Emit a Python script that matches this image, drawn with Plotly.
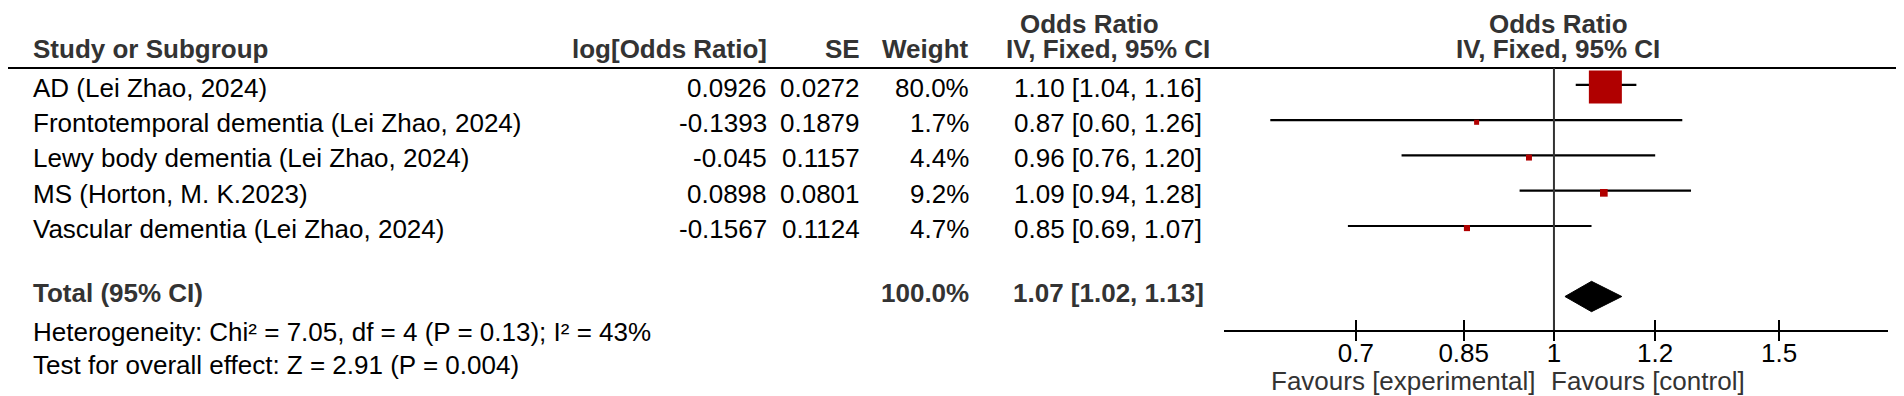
import math
import plotly.graph_objects as go

# ---------------- data ----------------
studies = [
    "AD (Lei Zhao, 2024)",
    "Frontotemporal dementia (Lei Zhao, 2024)",
    "Lewy body dementia (Lei Zhao, 2024)",
    "MS (Horton, M. K.2023)",
    "Vascular dementia (Lei Zhao, 2024)",
]
log_or = [0.0926, -0.1393, -0.045, 0.0898, -0.1567]
se = ["0.0272", "0.1879", "0.1157", "0.0801", "0.1124"]
weight = [80.0, 1.7, 4.4, 9.2, 4.7]
or_est = [1.10, 0.87, 0.96, 1.09, 0.85]
ci_lo = [1.04, 0.60, 0.76, 0.94, 0.69]
ci_hi = [1.16, 1.26, 1.20, 1.28, 1.07]
total_est, total_lo, total_hi = 1.07, 1.02, 1.13
total_weight = 100.0
heterogeneity = "Heterogeneity: Chi² = 7.05, df = 4 (P = 0.13); I² = 43%"
overall_effect = "Test for overall effect: Z = 2.91 (P = 0.004)"
tick_vals = [0.7, 0.85, 1, 1.2, 1.5]
tick_text = ["0.7", "0.85", "1", "1.2", "1.5"]
x_min, x_max = 0.552, 1.825

# ---------------- layout helpers ----------------
W, H = 1904, 396
FONT = "Arial, Liberation Sans, sans-serif"
FS = 26
DARK = "#333333"
BLACK = "#000000"
RED = "#B00000"
TEXT_SHIFT = -7  # annotation boxes sit a little low; lift them

def px(xp):
    return xp / W

def py(yp):
    return 1 - yp / H

annotations = []

def txt(text, xp, yp, anchor="left", bold=False, color=BLACK, size=FS,
        shift=TEXT_SHIFT, yanchor="middle"):
    annotations.append(dict(
        text=f"<b>{text}</b>" if bold else text,
        x=px(xp), y=py(yp + shift), xref="paper", yref="paper",
        xanchor=anchor, yanchor=yanchor, showarrow=False, borderpad=0,
        font=dict(family=FONT, size=size, color=color),
    ))

# column anchors (pixels)
X_STUDY = 24
X_LOGOR = 760
X_SE = 853
X_WEIGHT = 962
X_CI = 1100
X_PLOT = 1550

# header
txt("Odds Ratio", 1081, 0, "center", True, DARK, shift=0, yanchor="top")
txt("Odds Ratio", X_PLOT, 0, "center", True, DARK, shift=0, yanchor="top")
hy = 48
txt("Study or Subgroup", X_STUDY, hy, "left", True, DARK)
txt("log[Odds Ratio]", X_LOGOR, hy, "right", True, DARK)
txt("SE", X_SE, hy, "right", True, DARK)
txt("Weight", X_WEIGHT, hy, "right", True, DARK)
txt("IV, Fixed, 95% CI", X_CI, hy, "center", True, DARK)
txt("IV, Fixed, 95% CI", X_PLOT, hy, "center", True, DARK)

# study rows
row_text_y0, row_step = 87, 35.2
for i, s in enumerate(studies):
    yy = row_text_y0 + i * row_step
    txt(s, X_STUDY, yy, "left")
    txt(str(log_or[i]), X_LOGOR, yy, "right")
    txt(se[i], X_SE, yy, "right")
    txt(f"{weight[i]:.1f}%", X_WEIGHT, yy, "right")
    txt(f"{or_est[i]:.2f} [{ci_lo[i]:.2f}, {ci_hi[i]:.2f}]", X_CI, yy, "center")

# total rows
txt("Total (95% CI)", X_STUDY, 292, "left", True, DARK)
txt(f"{total_weight:.1f}%", X_WEIGHT, 292, "right", True, DARK)
txt(f"{total_est:.2f} [{total_lo:.2f}, {total_hi:.2f}]", X_CI, 292, "center", True, DARK)
txt(heterogeneity, X_STUDY, 331, "left")
txt(overall_effect, X_STUDY, 364, "left")

# favours
txt("Favours [experimental]", 1528, 380, "right", False, DARK)
txt("Favours [control]", 1542, 380, "left", False, DARK)

# ---------------- traces ----------------
fig = go.Figure()
rows = list(range(len(studies)))

# CI lines
cx, cy = [], []
for i in rows:
    cx += [ci_lo[i], ci_hi[i], None]
    cy += [i, i, None]
fig.add_trace(go.Scatter(x=cx, y=cy, mode="lines",
                         line=dict(color=BLACK, width=2.2),
                         hoverinfo="skip", showlegend=False))

# squares (size grows with weight)
sizes = [5 + 28 * (w - min(weight)) / (max(weight) - min(weight)) for w in weight]
fig.add_trace(go.Scatter(x=[math.exp(v) for v in log_or], y=[i + 0.06 for i in rows],
                         mode="markers",
                         marker=dict(symbol="square", size=sizes, color=RED,
                                     opacity=1, line=dict(width=0)),
                         hoverinfo="skip", showlegend=False))

# diamond
total_row = 6
dh = 0.43
fig.add_trace(go.Scatter(x=[total_lo, total_est, total_hi, total_est, total_lo],
                         y=[total_row, total_row - dh, total_row, total_row + dh, total_row],
                         mode="lines", fill="toself", fillcolor=BLACK,
                         line=dict(color=BLACK, width=1),
                         hoverinfo="skip", showlegend=False))

# helper traces for the overlay axes
for ax in ("x2", "x3"):
    fig.add_trace(go.Scatter(x=[1], y=[0], xaxis=ax, mode="markers",
                             marker=dict(opacity=0), hoverinfo="skip", showlegend=False))

x_range = [math.log10(x_min), math.log10(x_max)]
x_dom = [px(1216), px(1880)]
y_dom = [py(322), py(60)]

fig.update_layout(
    width=W, height=H,
    margin=dict(l=0, r=0, t=0, b=0),
    paper_bgcolor="white", plot_bgcolor="white",
    showlegend=False,
    annotations=annotations,
    # main axis: line and inner half of the ticks
    xaxis=dict(type="log", range=x_range, domain=x_dom, anchor="y",
               showline=True, linecolor=BLACK, linewidth=2,
               ticks="inside", ticklen=10, tickwidth=2, tickcolor=BLACK,
               tickvals=tick_vals, showticklabels=False,
               showgrid=False, zeroline=False, fixedrange=True),
    # overlay axis: outer half of the ticks
    xaxis2=dict(type="log", range=x_range, domain=x_dom, anchor="y",
                overlaying="x", side="bottom",
                showline=False, ticks="outside", ticklen=10, tickwidth=2,
                tickcolor=BLACK, tickvals=tick_vals, showticklabels=False,
                showgrid=False, zeroline=False, fixedrange=True),
    # overlay axis carrying the tick labels
    xaxis3=dict(type="log", range=x_range, domain=x_dom, anchor="free",
                position=py(327), overlaying="x", side="bottom",
                showline=False, ticks="", tickvals=tick_vals, ticktext=tick_text,
                tickfont=dict(family=FONT, size=FS, color=BLACK),
                showgrid=False, zeroline=False, fixedrange=True),
    yaxis=dict(range=[6.95, -0.48], domain=y_dom, visible=False,
               showgrid=False, zeroline=False, fixedrange=True),
    shapes=[
        dict(type="line", xref="paper", yref="paper", x0=0, x1=1,
             y0=py(60), y1=py(60), line=dict(color=BLACK, width=2)),
        dict(type="line", xref="x", yref="y domain", x0=1, x1=1, y0=0, y1=1,
             line=dict(color=DARK, width=2)),
    ],
)

fig.write_html("out.html")
